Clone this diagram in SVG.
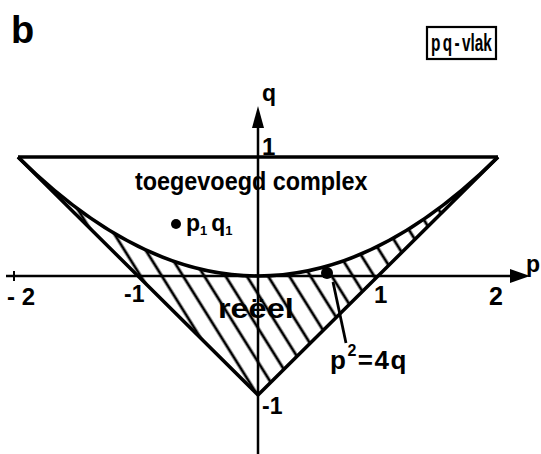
<svg xmlns="http://www.w3.org/2000/svg" width="541" height="454" viewBox="0 0 541 454">
<style>
text{font-family:"Liberation Sans",Arial,sans-serif;font-weight:bold;fill:#000}
.curve{fill:none;stroke:#000;stroke-width:3.5;stroke-linejoin:round}
.axis{fill:none;stroke:#000;stroke-width:2.5}
</style>
<defs>
<pattern id="hatch" patternUnits="userSpaceOnUse" width="18" height="18" patternTransform="rotate(-32)">
<line x1="9" y1="-2" x2="9" y2="20" stroke="#000" stroke-width="2.8"/>
</pattern>
</defs>
<rect width="541" height="454" fill="#fff"/>
<text x="11" y="43" font-size="38">b</text>
<g id="title">
<rect x="427" y="27" width="69" height="32" fill="none" stroke="#000" stroke-width="2.2"/>
<text font-size="24" word-spacing="-3" transform="translate(431,51) scale(0.64,1)">p q - vlak</text>
</g>
<g id="region">
<path d="M18,157 Q258,395 498,157 L258,395 Z" fill="url(#hatch)"/>
<path class="curve" d="M18,157 H498"/>
<path class="curve" d="M18,157 Q258,395 498,157"/>
<path class="curve" d="M18,157 L258,395 L498,157"/>
</g>
<g id="axes">
<line class="axis" x1="6" y1="276" x2="520" y2="276"/>
<path d="M510,269 L530,276 L510,283 Z" fill="#000"/>
<line class="axis" x1="258" y1="454" x2="258" y2="120"/>
<path d="M252,128 L258,106 L264,128 Z" fill="#000"/>
<line x1="14" y1="271" x2="14" y2="281" stroke="#000" stroke-width="2"/>
</g>
<g id="labels">
<text x="262" y="101" font-size="23">q</text>
<text x="526" y="272" font-size="23">p</text>
<text x="262" y="155" font-size="24">1</text>
<text x="7" y="305" font-size="24">- 2</text>
<text x="124" y="302" font-size="23">-1</text>
<text x="374" y="303" font-size="24">1</text>
<text x="489" y="305" font-size="25">2</text>
<text x="262" y="414" font-size="23">-1</text>
<text font-size="26" transform="translate(135,190) scale(0.9,1)">toegevoegd  complex</text>
<text font-size="27" transform="translate(218,318) scale(1.2,1)">reëel</text>
</g>
<g id="point1">
<circle cx="176" cy="224" r="5" fill="#000"/>
<text x="186" y="231" font-size="23">p<tspan font-size="13" dy="4">1</tspan><tspan font-size="23" dy="-4" dx="4">q</tspan><tspan font-size="13" dy="4">1</tspan></text>
</g>
<g id="point2">
<circle cx="327" cy="273" r="6" fill="#000"/>
<line x1="333" y1="282" x2="346" y2="343" stroke="#000" stroke-width="2.8"/>
<text x="330" y="369" font-size="26" letter-spacing="1.5">p<tspan font-size="16" dy="-13">2</tspan><tspan dy="13" font-size="26">=4q</tspan></text>
</g>
</svg>
